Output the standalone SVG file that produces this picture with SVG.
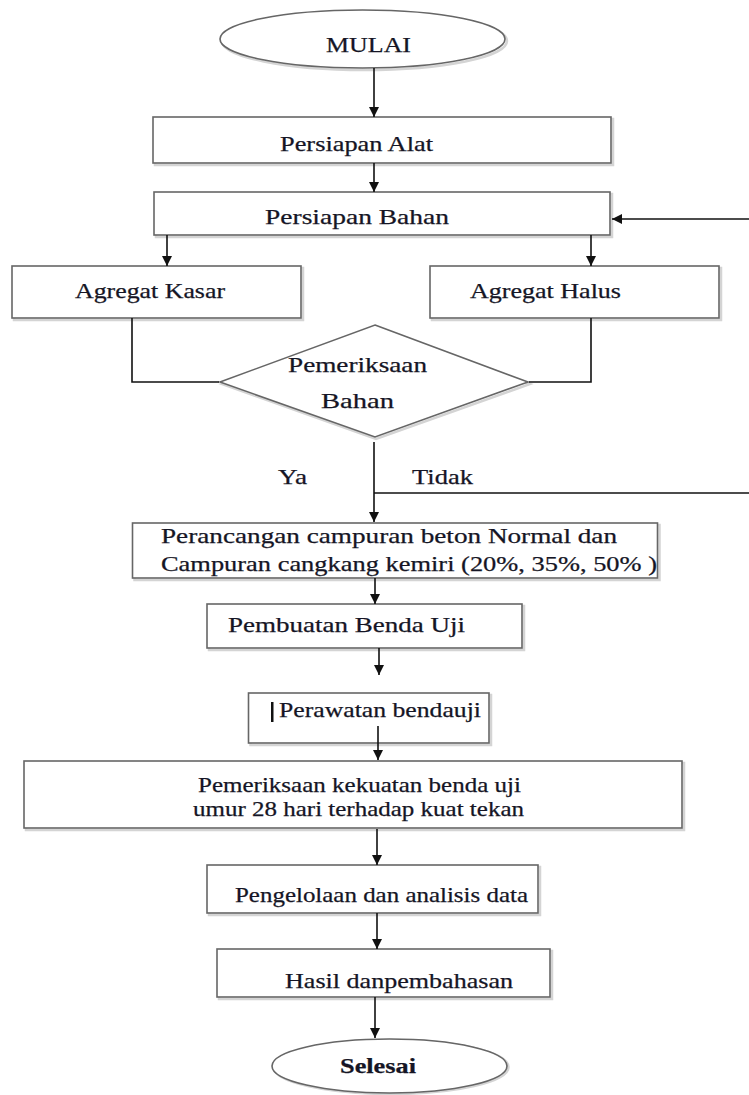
<svg xmlns="http://www.w3.org/2000/svg" width="749" height="1095" viewBox="0 0 749 1095">
<style>
.sh{fill:none;stroke:#d4d4d4;stroke-width:2.5}
.bx{fill:#fff;stroke:#666;stroke-width:1.6}
.t{font-family:"Liberation Serif","Times New Roman",serif;font-size:21.5px;fill:#151525;stroke:#151525;stroke-width:0.25}
.b{font-weight:bold}
.c{fill:none;stroke:#111;stroke-width:1.6}
</style>
<defs>
<marker id="ah" markerUnits="userSpaceOnUse" markerWidth="10" markerHeight="12" viewBox="0 0 10 12" refX="10" refY="6" orient="auto">
<path d="M0,1 L10,6 L0,11 Z" fill="#111"/>
</marker>
</defs>
<rect width="749" height="1095" fill="#fff"/>

<g id="mulai">
<ellipse class="sh" cx="364.5" cy="41" rx="142.5" ry="29"/>
<ellipse class="bx" cx="362.5" cy="39" rx="142.5" ry="29"/>
<text class="t" x="326" y="52" textLength="85" lengthAdjust="spacingAndGlyphs">MULAI</text>
</g>

<g id="persiapan-alat">
<rect class="sh" x="155" y="119" width="458" height="46"/>
<rect class="bx" x="153" y="117" width="458" height="46"/>
<text class="t" x="280" y="151" textLength="153" lengthAdjust="spacingAndGlyphs">Persiapan Alat</text>
</g>

<g id="persiapan-bahan">
<rect class="sh" x="156" y="194" width="456" height="43"/>
<rect class="bx" x="154" y="192" width="456" height="43"/>
<text class="t" x="265" y="224" textLength="184" lengthAdjust="spacingAndGlyphs">Persiapan Bahan</text>
</g>

<g id="agregat-kasar">
<rect class="sh" x="14" y="268" width="289" height="52"/>
<rect class="bx" x="12" y="266" width="289" height="52"/>
<text class="t" x="75" y="298" textLength="150" lengthAdjust="spacingAndGlyphs">Agregat Kasar</text>
</g>

<g id="agregat-halus">
<rect class="sh" x="432" y="268" width="289" height="52"/>
<rect class="bx" x="430" y="266" width="289" height="52"/>
<text class="t" x="470" y="298" textLength="151" lengthAdjust="spacingAndGlyphs">Agregat Halus</text>
</g>

<g id="pemeriksaan-bahan">
<polygon class="sh" points="376,327 530,384 376,439 222,384"/>
<polygon class="bx" points="375,325 528,382 375,437 220,382"/>
<text class="t" x="288" y="372" textLength="139" lengthAdjust="spacingAndGlyphs">Pemeriksaan</text>
<text class="t" x="321" y="408" textLength="73" lengthAdjust="spacingAndGlyphs">Bahan</text>
</g>

<g id="perancangan">
<rect class="sh" x="134.5" y="525" width="525" height="55"/>
<rect class="bx" x="132.5" y="523" width="525" height="55"/>
<text class="t" x="161" y="543" textLength="456" lengthAdjust="spacingAndGlyphs">Perancangan campuran beton Normal dan</text>
<text class="t" x="161" y="571" textLength="496" lengthAdjust="spacingAndGlyphs">Campuran cangkang kemiri (20%, 35%, 50% )</text>
</g>

<g id="pembuatan">
<rect class="sh" x="209" y="606" width="315" height="44"/>
<rect class="bx" x="207" y="604" width="315" height="44"/>
<text class="t" x="228" y="632" textLength="237" lengthAdjust="spacingAndGlyphs">Pembuatan Benda Uji</text>
</g>

<g id="perawatan">
<rect class="sh" x="250.5" y="695" width="240.5" height="50"/>
<rect class="bx" x="248.5" y="693" width="240.5" height="50"/>
<rect x="271" y="702" width="2.5" height="20" fill="#111"/>
<text class="t" x="279" y="717" textLength="202" lengthAdjust="spacingAndGlyphs">Perawatan bendauji</text>
</g>

<g id="pemeriksaan-kekuatan">
<rect class="sh" x="26" y="763" width="658" height="67"/>
<rect class="bx" x="24" y="761" width="658" height="67"/>
<text class="t" x="198" y="792" textLength="323" lengthAdjust="spacingAndGlyphs">Pemeriksaan kekuatan benda uji</text>
<text class="t" x="193" y="816" textLength="331" lengthAdjust="spacingAndGlyphs">umur 28 hari terhadap kuat tekan</text>
</g>

<g id="pengelolaan">
<rect class="sh" x="209" y="867" width="331" height="48"/>
<rect class="bx" x="207" y="865" width="331" height="48"/>
<text class="t" x="235" y="902" textLength="293" lengthAdjust="spacingAndGlyphs">Pengelolaan dan analisis data</text>
</g>

<g id="hasil">
<rect class="sh" x="219" y="951" width="333" height="48"/>
<rect class="bx" x="217" y="949" width="333" height="48"/>
<text class="t" x="285" y="988" textLength="228" lengthAdjust="spacingAndGlyphs">Hasil danpembahasan</text>
</g>

<g id="selesai">
<ellipse class="sh" cx="391" cy="1067" rx="117.5" ry="27"/>
<ellipse class="bx" cx="389.5" cy="1066" rx="117.5" ry="27"/>
<text class="t b" x="340" y="1073" textLength="76" lengthAdjust="spacingAndGlyphs">Selesai</text>
</g>

<g id="connectors">
<line class="c" x1="374" y1="68" x2="374" y2="117" marker-end="url(#ah)"/>
<line class="c" x1="374" y1="163" x2="374" y2="192" marker-end="url(#ah)"/>
<line class="c" x1="749" y1="219" x2="612" y2="219" marker-end="url(#ah)"/>
<line class="c" x1="167" y1="235" x2="167" y2="266" marker-end="url(#ah)"/>
<line class="c" x1="591" y1="235" x2="591" y2="266" marker-end="url(#ah)"/>
<polyline class="c" points="132,318 132,382 219,382"/>
<polyline class="c" points="591,318 591,382 529,382"/>
<line class="c" x1="374" y1="442" x2="374" y2="522" marker-end="url(#ah)"/>
<line class="c" x1="374" y1="493" x2="749" y2="493"/>
<line class="c" x1="375" y1="578" x2="375" y2="604" marker-end="url(#ah)"/>
<line class="c" x1="379" y1="648" x2="379" y2="675" marker-end="url(#ah)"/>
<line class="c" x1="378" y1="726" x2="378" y2="760" marker-end="url(#ah)"/>
<line class="c" x1="377" y1="829" x2="377" y2="865" marker-end="url(#ah)"/>
<line class="c" x1="377" y1="913" x2="377" y2="949" marker-end="url(#ah)"/>
<line class="c" x1="375" y1="997" x2="375" y2="1038" marker-end="url(#ah)"/>
<text class="t" x="278" y="484" textLength="29" lengthAdjust="spacingAndGlyphs">Ya</text>
<text class="t" x="412" y="484" textLength="61" lengthAdjust="spacingAndGlyphs">Tidak</text>
</g>
</svg>
